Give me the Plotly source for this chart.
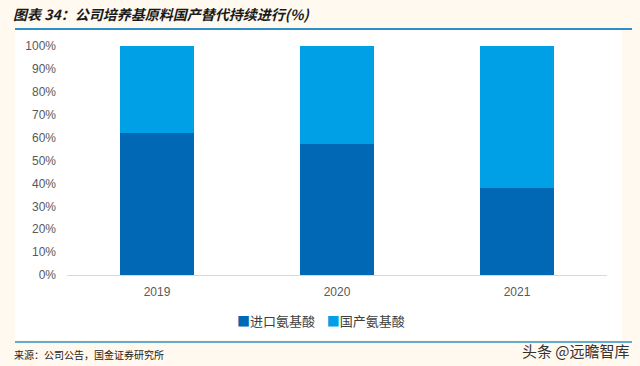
import plotly.graph_objects as go

years = ["2019", "2020", "2021"]
imported = [0.62, 0.57, 0.38]
domestic = [0.38, 0.43, 0.62]
series_names = ["进口氨基酸", "国产氨基酸"]
series_colors = ["#0068B5", "#00A0E6"]
y_ticks = [0, 0.1, 0.2, 0.3, 0.4, 0.5, 0.6, 0.7, 0.8, 0.9, 1.0]
y_tick_labels = ["0%", "10%", "20%", "30%", "40%", "50%", "60%", "70%", "80%", "90%", "100%"]

W, H = 640, 366
L, R, T, B = 67, 33, 46, 91
plot_w = W - L - R
plot_h = H - T - B

def ax(x):
    return (x - L) / plot_w

def ay(y):
    return (H - B - y) / plot_h

fig = go.Figure()
fig.add_trace(go.Bar(x=years, y=imported, name=series_names[0], marker_color=series_colors[0],
                     marker_line_width=0))
fig.add_trace(go.Bar(x=years, y=domestic, name=series_names[1], marker_color=series_colors[1],
                     marker_line_width=0))

font = "Noto Sans CJK SC, Liberation Sans, Arial"
fig.update_layout(
    width=W, height=H,
    barmode="stack", bargap=0.594,
    paper_bgcolor="#FFF9EF", plot_bgcolor="white",
    margin=dict(l=L, r=R, t=T, b=B, pad=0),
    font=dict(family=font, size=11, color="#595959"),
    showlegend=False,
    xaxis=dict(showgrid=False, showline=True, linecolor="#D9D9D9", linewidth=1,
               ticks="", tickfont=dict(size=12, color="#595959",
                                       family="Liberation Sans, Arial"),
               ticklabelstandoff=6),
    yaxis=dict(range=[0, 1], tickvals=y_ticks, ticktext=y_tick_labels, showgrid=False,
               zeroline=False, showline=False, ticks="",
               tickfont=dict(size=12, color="#595959", family="Liberation Sans, Arial"),
               ticklabelstandoff=10),
)

shapes = [
    dict(type="rect", xref="paper", yref="paper",
         x0=ax(15), x1=ax(622), y0=ay(340), y1=ay(30),
         fillcolor="white", line_width=0, layer="below"),
    dict(type="line", xref="paper", yref="paper",
         x0=ax(15), x1=ax(632), y0=ay(29), y1=ay(29),
         line=dict(color="#2C8FC9", width=2)),
    dict(type="line", xref="paper", yref="paper",
         x0=ax(15), x1=ax(632), y0=ay(342), y1=ay(342),
         line=dict(color="#2C8FC9", width=1.5)),
]
fig.update_layout(shapes=shapes)

legend_text = "&nbsp;&nbsp;&nbsp;&nbsp;".join(
    f"<span style='color:{c}'>■</span>{n}" for n, c in zip(series_names, series_colors))

annotations = [
    dict(text="<b><i>图表 34：公司培养基原料国产替代持续进行(%)</i></b>", x=ax(11), y=ay(14),
         xref="paper", yref="paper", xanchor="left", yanchor="middle", showarrow=False,
         font=dict(size=14, color="#1A1A1A", family=font)),
    dict(text=legend_text, x=ax(321), y=ay(320),
         xref="paper", yref="paper", xanchor="center", yanchor="middle", showarrow=False,
         font=dict(size=13, color="#404040", family=font)),
    dict(text="来源：公司公告，国金证券研究所", x=ax(12), y=ay(354),
         xref="paper", yref="paper", xanchor="left", yanchor="middle", showarrow=False,
         font=dict(size=10, color="#222222", family=font)),
    dict(text="头条 @远瞻智库", x=ax(632), y=ay(350),
         xref="paper", yref="paper", xanchor="right", yanchor="middle", showarrow=False,
         font=dict(size=15, color="#333333", family=font)),
]
fig.update_layout(annotations=annotations)

fig.write_html("out.html", config={"displayModeBar": False},
               post_script="document.body.style.margin='0';")
